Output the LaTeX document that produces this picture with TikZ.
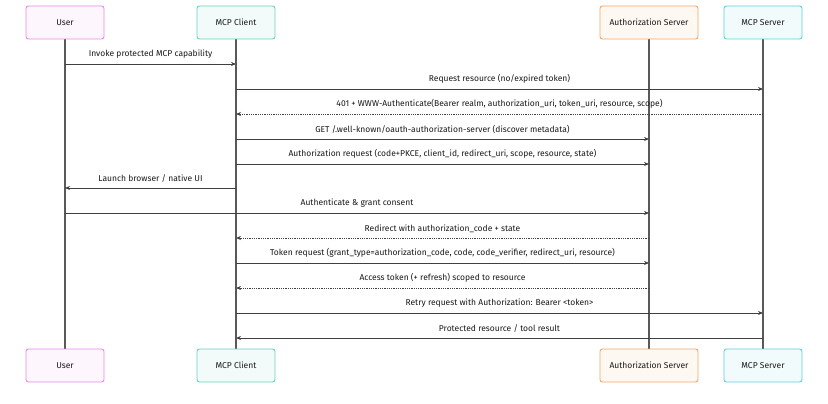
\documentclass[tikz,border=0pt]{standalone}
\usepackage{fontspec}
\setmainfont{Fira Sans}
\usetikzlibrary{arrows.meta}
\newcommand\mymsg[5]{\coordinate (p) at (#2,#1); \coordinate (q) at (#3,#1);
  \draw[#4] (p) -- (q) node[midway,lbl] {#5};}
\begin{document}
\begin{tikzpicture}[x=1pt,y=-1pt,
  part/.style={draw=#1, fill=#1!8, rounded corners=2.5pt, line width=0.9pt, minimum width=78pt, minimum height=33pt, font=\fontsize{8.5}{9}\selectfont, text=black!90},
  life/.style={draw=black!65, line width=1.1pt},
  msg/.style={draw=black!75, line width=0.8pt, -{Stealth[length=5pt,width=4pt]}},
  rep/.style={msg, densely dotted},
  lbl/.style={font=\fontsize{8.5}{9}\selectfont, text=black!90, above=1.5pt}]
\useasboundingbox (0,0) rectangle (828,404);
\fill[white] (0,0) rectangle (828,404);
\definecolor{cu}{RGB}{230,140,230}
\definecolor{cc}{RGB}{100,210,190}
\definecolor{ca}{RGB}{245,165,100}
\definecolor{cs}{RGB}{90,210,220}
\foreach \n/\x/\w/\c/\t in {u/65/78/cu/User, c/236/78/cc/MCP Client, a/649/98/ca/Authorization Server, s/763/78/cs/MCP Server}{
  \draw[life] (\x,39) -- (\x,349);
  \node[part=\c, minimum width=\w pt] (\n top) at (\x,22.5) {\t};
  \node[part=\c, minimum width=\w pt] (\n bot) at (\x,365.5) {\t};
}
\mymsg{64}{65}{236}{msg}{Invoke protected MCP capability}
\mymsg{89}{236}{763}{msg}{Request resource (no/expired token)}
\mymsg{114}{763}{236}{rep}{401 + WWW-Authenticate(Bearer realm, authorization\_uri, token\_uri, resource, scope)}
\mymsg{139}{236}{649}{msg}{GET /.well-known/oauth-authorization-server (discover metadata)}
\mymsg{164}{236}{649}{msg}{Authorization request (code+PKCE, client\_id, redirect\_uri, scope, resource, state)}
\mymsg{188}{236}{65}{msg}{Launch browser / native UI}
\mymsg{213}{65}{649}{msg}{Authenticate \& grant consent}
\mymsg{238}{649}{236}{rep}{Redirect with authorization\_code + state}
\mymsg{263}{236}{649}{msg}{Token request (grant\_type=authorization\_code, code, code\_verifier, redirect\_uri, resource)}
\mymsg{288}{649}{236}{rep}{Access token (+ refresh) scoped to resource}
\mymsg{313}{236}{763}{msg}{Retry request with Authorization: Bearer <token>}
\mymsg{338}{763}{236}{msg}{Protected resource / tool result}
\end{tikzpicture}
\end{document}
